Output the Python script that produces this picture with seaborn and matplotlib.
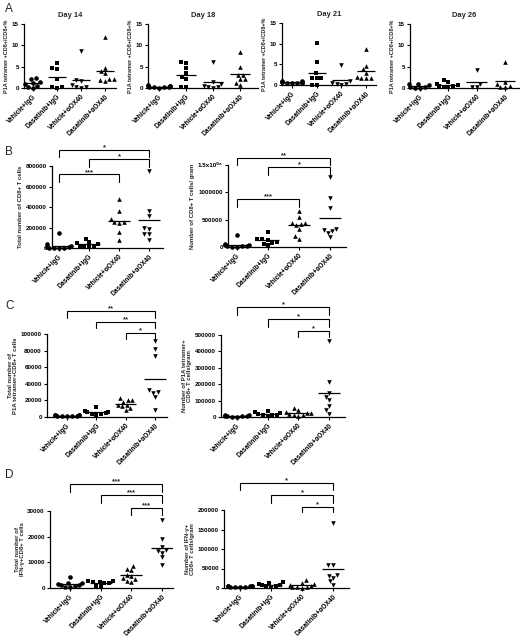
import warnings
import numpy as np
import pandas as pd
import matplotlib
matplotlib.use("Agg")
import matplotlib.pyplot as plt
import seaborn as sns

warnings.filterwarnings("ignore")

sns.set_style("ticks")
plt.rcParams["font.family"] = ["Liberation Sans", "DejaVu Sans"]
plt.rcParams["font.weight"] = "bold"
plt.rcParams["axes.labelweight"] = "bold"
plt.rcParams["axes.titleweight"] = "bold"

groups = ["Vehicle+IgG", "Dasatinib+IgG", "Vehicle+αOX40", "Dasatinib+αOX40"]

# Panel A: P1A tetramer+CD8+/CD8+ % per treatment group on each day
day14 = [
    [2.3, 2.2, 1.4, 1.2, 1.0, 0.5, 0.2, 0.1],
    [5.9, 4.7, 4.5, 2.0, 0.3, 0.2, 0.1],
    [8.6, 1.9, 1.6, 0.6, 0.3, 0.2, 0.1],
    [12.0, 4.7, 3.9, 3.5, 2.0, 2.0, 1.8, 1.6],
]
day18 = [
    [0.6, 0.5, 0.5, 0.4, 0.3, 0.3, 0.2, 0.2, 0.1],
    [6.2, 5.9, 4.7, 3.5, 2.6, 2.0, 0.2, 0.2],
    [6.0, 1.5, 1.0, 0.5, 0.3, 0.2, 0.1],
    [8.4, 4.9, 3.1, 3.0, 2.1, 2.0, 1.2, 0.8],
]
day21 = [
    [0.9, 0.9, 0.8, 0.8, 0.7, 0.6, 0.6, 0.5, 0.4],
    [10.2, 5.6, 2.8, 1.8, 1.7, 1.7, 0.1, 0.1],
    [4.8, 1.0, 0.5, 0.3, 0.2, 0.1],
    [8.8, 4.6, 3.8, 3.0, 1.9, 1.8, 1.6, 1.6],
]
day26 = [
    [1.0, 0.9, 0.6, 0.3, 0.2, 0.1, 0.0],
    [1.8, 1.5, 1.0, 0.8, 0.5, 0.4, 0.3, 0.2],
    [4.3, 1.0, 0.3, 0.2],
    [6.2, 1.5, 1.0, 0.5, 0.3, 0.2],
]

# Panel B: CD8+ T cells
cd8_total = [
    [147000, 38000, 15000, 8000, 5000, 3000, 2000, 1000, 500],
    [92000, 60000, 45000, 38000, 20000, 15000, 10000, 8000],
    [475000, 360000, 280000, 255000, 250000, 245000, 160000, 80000],
    [751000, 359000, 310000, 200000, 190000, 140000, 134000, 75000],
]
cd8_per_gram = [
    [226000, 50000, 30000, 30000, 20000, 15000, 10000, 8000, 5000],
    [275000, 150000, 140000, 130000, 100000, 80000, 60000, 30000],
    [660000, 550000, 440000, 430000, 425000, 400000, 335000, 195000, 150000],
    [1273000, 888000, 716000, 330000, 318000, 294000, 257000, 184000],
]

# Panel C: P1A tetramer+ CD8+ T cells
tet_total = [
    [3000, 2500, 2000, 2000, 1500, 1500, 1200, 1000, 800],
    [12000, 7000, 6500, 5500, 4500, 4000, 3500, 2000],
    [23000, 21000, 20500, 18500, 15000, 14000, 13000, 11000, 9000],
    [91000, 82000, 73000, 32000, 30000, 29000, 24000, 9000],
]
tet_per_gram = [
    [15000, 10000, 8000, 6000, 5000, 4000, 3000, 2000],
    [38000, 30000, 25000, 20000, 15000, 14000, 10000, 8000],
    [52000, 42000, 30000, 25000, 22000, 20000, 15000, 10000, 5000],
    [465000, 214000, 147000, 122000, 102000, 65000, 41000, 20000],
]

# Panel D: IFN-γ+ CD8+ T cells
ifng_total = [
    [4100, 2000, 1800, 1500, 1200, 1000, 600, 300, 200],
    [2800, 2700, 2500, 2200, 1900, 1800, 800, 600],
    [8600, 7300, 7000, 5200, 4800, 3900, 3500, 2600, 2500],
    [26400, 18900, 15800, 14800, 14500, 13800, 12000, 9100],
]
ifng_per_gram = [
    [6000, 5500, 5000, 4000, 4000, 3000, 2500, 2000, 1500],
    [15000, 14000, 10000, 8000, 8000, 6000, 4000, 3000],
    [20000, 13000, 9000, 7000, 5000, 3000, 2000, 1500, 1000],
    [166000, 60000, 58000, 34000, 31000, 25500, 17000, 8000],
]

markers_a = ["o", "s", "v", "^"]
markers_bcd = ["o", "s", "^", "v"]

W, H = 520, 644
fig = plt.figure(figsize=(W / 100, H / 100), dpi=100)


def make_axes(x_left, x_right, cat_first, cat_last, y_zero, y_top):
    ax = fig.add_axes([x_left / W, 1 - y_zero / H,
                       (x_right - x_left) / W, (y_zero - y_top) / H])
    ax._cat_px = (x_left, x_right, cat_first, cat_last)
    return ax


def draw_panel(ax, values, markers, yticks, yticklabels, ylabel,
               title=None, ylabel_size=4.3, brackets=()):
    for i, (g, vals, m) in enumerate(zip(groups, values, markers)):
        df = pd.DataFrame({"group": [g] * len(vals), "value": vals})
        sns.swarmplot(data=df, x="group", y="value", order=groups,
                      marker=m, color="black", size=3.3, linewidth=0,
                      clip_on=False, ax=ax)
        ax.hlines(np.mean(vals), i - 0.36, i + 0.36, color="black",
                  lw=0.9, zorder=3)
    x_left, x_right, c0, c3 = ax._cat_px
    ppu = (c3 - c0) / 3
    ax.set_xlim(-(c0 - x_left) / ppu, 3 + (x_right - c3) / ppu)
    ax.set_ylim(0, yticks[-1])
    ax.set_yticks(yticks)
    ax.set_yticklabels(yticklabels)
    ax.set_xticks(range(4))
    ax.set_xticklabels(groups, rotation=45, ha="right",
                       rotation_mode="anchor")
    ax.set_xlabel("")
    ax.set_ylabel(ylabel, fontsize=ylabel_size, labelpad=2,
                  linespacing=1.0)
    sns.despine(ax=ax)
    for s in ("left", "bottom"):
        ax.spines[s].set_linewidth(0.9)
        ax.spines[s].set_color("black")
    ax.tick_params(axis="y", length=2.5, width=0.8, pad=1.2,
                   labelsize=4.5, colors="black")
    ax.tick_params(axis="x", length=2.5, width=0.8, pad=1.2,
                   labelsize=4.8, colors="black")
    if title:
        ax.set_title(title, fontsize=5.4, pad=5)
    trans = ax.get_xaxis_transform()
    for i, j, label, top, leg in brackets:
        ax.plot([i, i, j, j], [leg, top, top, leg], transform=trans,
                color="black", lw=0.8, clip_on=False,
                solid_joinstyle="miter")
        ax.annotate(label, xy=((i + j) / 2, top), xycoords=trans,
                    xytext=(0, -1.2), textcoords="offset points",
                    ha="center", va="bottom", fontsize=5.5,
                    fontweight="bold")


pct_ticks = [0, 5, 10, 15]
pct_labels = ["0", "5", "10", "15"]
pct_label = "P1A tetramer +CD8+/CD8+%"

# Row A
ax = make_axes(24, 116, 33, 105, 88, 24)
draw_panel(ax, day14, markers_a, pct_ticks, pct_labels, pct_label,
           title="Day 14", ylabel_size=4.0)
ax = make_axes(148, 258, 159, 240, 88, 24)
draw_panel(ax, day18, markers_a, pct_ticks, pct_labels, pct_label,
           title="Day 18", ylabel_size=4.0)
ax = make_axes(282, 376, 292, 366, 85, 23)
draw_panel(ax, day21, markers_a, pct_ticks, pct_labels, pct_label,
           title="Day 21", ylabel_size=4.0)
ax = make_axes(410, 519, 420, 505, 88, 24)
draw_panel(ax, day26, markers_a, pct_ticks, pct_labels, pct_label,
           title="Day 26", ylabel_size=4.0)

# Row B
ax = make_axes(52, 163, 59, 149, 248, 166)
draw_panel(ax, cd8_total, markers_bcd,
           [0, 200000, 400000, 600000, 800000],
           ["0", "200000", "400000", "600000", "800000"],
           "Total number of CD8+ T cells",
           brackets=[(0, 3, "*", 1.195, 1.11),
                     (1, 3, "*", 1.085, 0.99),
                     (0, 2, "***", 0.90, 0.80)])
ax = make_axes(228, 346, 237, 330, 247, 165)
draw_panel(ax, cd8_per_gram, markers_bcd,
           [0, 500000, 1000000, 1500000],
           ["0", "500000", "1000000", "1.5x10⁰⁶"],
           "Number of CD8+ T cells/ gram",
           brackets=[(0, 3, "**", 1.085, 1.0),
                     (1, 3, "*", 0.976, 0.878),
                     (0, 2, "***", 0.585, 0.49)])

# Row C
ax = make_axes(47, 167, 67, 155, 417, 334)
draw_panel(ax, tet_total, markers_bcd,
           [0, 20000, 40000, 60000, 80000, 100000],
           ["0", "20000", "40000", "60000", "80000", "100000"],
           "Total number of\nP1A tetramer+CD8+ T cells",
           brackets=[(0, 3, "**", 1.277, 1.193),
                     (1, 3, "**", 1.145, 1.072),
                     (2, 3, "*", 1.012, 0.94)])
ax = make_axes(221, 345, 237, 329, 417, 335)
draw_panel(ax, tet_per_gram, markers_bcd,
           [0, 100000, 200000, 300000, 400000, 500000],
           ["0", "100000", "200000", "300000", "400000", "500000"],
           "Number of P1A tetramer+\nCD8+ T cells/gram",
           brackets=[(0, 3, "*", 1.341, 1.244),
                     (1, 3, "*", 1.195, 1.098),
                     (2, 3, "*", 1.049, 0.976)])

# Row D
ax = make_axes(50, 173, 70, 162, 588, 511)
draw_panel(ax, ifng_total, markers_bcd,
           [0, 10000, 20000, 30000],
           ["0", "10000", "20000", "30000"],
           "Total number of\nIFN-γ+CD8+ T cells",
           brackets=[(0, 3, "***", 1.351, 1.247),
                     (1, 3, "***", 1.208, 1.104),
                     (2, 3, "***", 1.039, 0.948)])
ax = make_axes(224, 349, 240, 333, 588, 510)
draw_panel(ax, ifng_per_gram, markers_bcd,
           [0, 50000, 100000, 150000, 200000],
           ["0", "50000", "100000", "150000", "200000"],
           "Number of IFN-γ+\nCD8+ T cells/gram",
           brackets=[(0, 3, "*", 1.346, 1.256),
                     (1, 3, "*", 1.192, 1.09),
                     (2, 3, "*", 1.038, 0.974)])

# Panel letters
for letter, y in [("A", 3), ("B", 146), ("C", 300), ("D", 469)]:
    fig.text(5 / W, 1 - y / H, letter, ha="left", va="top",
             fontsize=8.5, fontweight="normal")

fig.savefig("out.png", dpi=100)
